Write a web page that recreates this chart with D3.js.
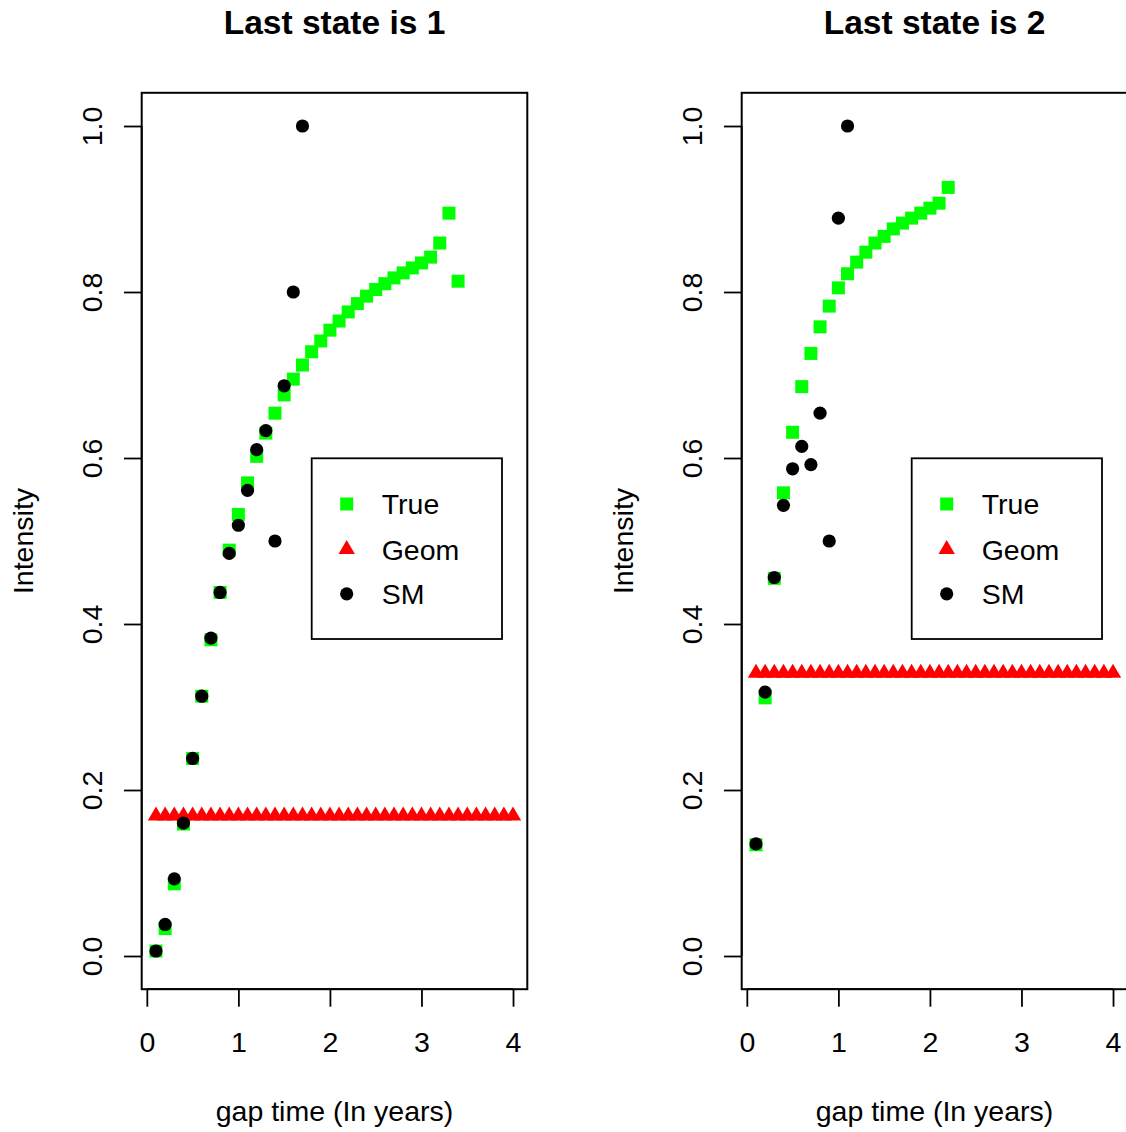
<!DOCTYPE html>
<html>
<head>
<meta charset="utf-8">
<script src="https://cdn.jsdelivr.net/npm/d3@7"></script>
<style>
  html, body { margin: 0; padding: 0; background: #fff; }
  svg { display: block; font-family: "Liberation Sans", Arial, Helvetica, sans-serif; }
</style>
</head>
<body>
<svg id="chart" width="1126" height="1132"></svg>
<script>
// ---- Data ----------------------------------------------------------------
// Panel 1: last state is 1
const trueX1 = [0.1,0.2,0.3,0.4,0.5,0.6,0.7,0.8,0.9,1.0,1.1,1.2,1.3,1.4,1.5,1.6,1.7,1.8,1.9,2.0,
                2.1,2.2,2.3,2.4,2.5,2.6,2.7,2.8,2.9,3.0,3.1,3.2,3.3,3.4];
const trueY1 = [0.006,0.033,0.087,0.159,0.238,0.313,0.381,0.438,0.489,0.532,0.570,0.602,0.630,0.654,
                0.676,0.695,0.712,0.728,0.741,0.754,0.765,0.776,0.786,0.795,0.803,0.810,0.817,0.823,
                0.829,0.835,0.842,0.859,0.895,0.813];
const smX1 = [0.1,0.2,0.3,0.4,0.5,0.6,0.7,0.8,0.9,1.0,1.1,1.2,1.3,1.4,1.5,1.6,1.7];
const smY1 = [0.006,0.038,0.093,0.160,0.238,0.313,0.383,0.438,0.485,0.519,0.561,0.610,0.633,0.500,
              0.687,0.800,1.000];

// Panel 2: last state is 2
const trueX2 = [0.1,0.2,0.3,0.4,0.5,0.6,0.7,0.8,0.9,1.0,1.1,1.2,1.3,1.4,1.5,1.6,1.7,1.8,1.9,2.0,2.1,2.2];
const trueY2 = [0.134,0.311,0.455,0.558,0.631,0.686,0.726,0.758,0.783,0.805,0.822,0.836,0.848,0.859,
                0.867,0.876,0.883,0.889,0.895,0.901,0.907,0.926];
const smX2 = [0.1,0.2,0.3,0.4,0.5,0.6,0.7,0.8,0.9,1.0,1.1];
const smY2 = [0.135,0.318,0.456,0.543,0.587,0.614,0.592,0.654,0.500,0.889,1.000];

// Geometric model: constant intensity on the full time grid
const geomX = [0.1,0.2,0.3,0.4,0.5,0.6,0.7,0.8,0.9,1.0,1.1,1.2,1.3,1.4,1.5,1.6,1.7,1.8,1.9,2.0,
               2.1,2.2,2.3,2.4,2.5,2.6,2.7,2.8,2.9,3.0,3.1,3.2,3.3,3.4,3.5,3.6,3.7,3.8,3.9,4.0];
const geomY1 = [0.169,0.169,0.169,0.169,0.169,0.169,0.169,0.169,0.169,0.169,0.169,0.169,0.169,0.169,
                0.169,0.169,0.169,0.169,0.169,0.169,0.169,0.169,0.169,0.169,0.169,0.169,0.169,0.169,
                0.169,0.169,0.169,0.169,0.169,0.169,0.169,0.169,0.169,0.169,0.169,0.169];
const geomY2 = [0.341,0.341,0.341,0.341,0.341,0.341,0.341,0.341,0.341,0.341,0.341,0.341,0.341,0.341,
                0.341,0.341,0.341,0.341,0.341,0.341,0.341,0.341,0.341,0.341,0.341,0.341,0.341,0.341,
                0.341,0.341,0.341,0.341,0.341,0.341,0.341,0.341,0.341,0.341,0.341,0.341];

const xTicks = [0, 1, 2, 3, 4];
const yTicks = [0.0, 0.2, 0.4, 0.6, 0.8, 1.0];
const legendLabels = ["True", "Geom", "SM"];
const titles = ["Last state is 1", "Last state is 2"];
const xLabel = "gap time (In years)";
const yLabel = "Intensity";

// ---- Layout --------------------------------------------------------------
const svg = d3.select("#chart");
const panelW = 600;
const plotL = 141.7, plotR = 527.3, plotT = 92.8, plotB = 989.2;
const baseFont = 28.5, titleFont = 33.5;

const colors = { True: "#00ff00", Geom: "#ff0000", SM: "#000000" };

// symbol drawing helpers (square, triangle, circle)
function drawSquare(g, x, y) {
  const s = 13;
  g.append("rect").attr("x", x - s / 2).attr("y", y - s / 2)
    .attr("width", s).attr("height", s).attr("fill", colors.True);
}
function drawTriangle(g, x, y) {
  const h = 14, w = 16.4;
  g.append("path")
    .attr("d", `M${x},${y - h * 2 / 3}L${x + w / 2},${y + h / 3}L${x - w / 2},${y + h / 3}Z`)
    .attr("fill", colors.Geom);
}
function drawCircle(g, x, y) {
  g.append("circle").attr("cx", x).attr("cy", y).attr("r", 6.6).attr("fill", colors.SM);
}

function panel(offset, title, tX, tY, gX, gY, sX, sY) {
  const g = svg.append("g").attr("transform", `translate(${offset},0)`);

  const x = d3.scaleLinear().domain([-0.056, 4.156]).range([plotL, plotR]);
  const y = d3.scaleLinear().domain([-0.04, 1.04]).range([plotB, plotT]);

  // points: True, then Geom, then SM on top
  const pts = g.append("g");
  tX.forEach((v, i) => drawSquare(pts, x(v), y(tY[i])));
  gX.forEach((v, i) => drawTriangle(pts, x(v), y(gY[i])));
  sX.forEach((v, i) => drawCircle(pts, x(v), y(sY[i])));

  // x axis
  const xa = g.append("g").attr("transform", `translate(0,${plotB})`)
    .call(d3.axisBottom(x).tickValues(xTicks).tickFormat(d3.format("d")).tickSize(17.5).tickSizeOuter(0));
  xa.select(".domain").remove();
  xa.append("line").attr("x1", x(xTicks[0])).attr("x2", x(xTicks[xTicks.length - 1]))
    .attr("y1", 0).attr("y2", 0).attr("stroke", "#000").attr("stroke-width", 1.8);
  xa.selectAll(".tick line").attr("stroke", "#000").attr("stroke-width", 1.8);
  xa.selectAll(".tick text").attr("y", 63.3).attr("dy", null)
    .attr("font-size", baseFont).attr("fill", "#000").attr("font-family", null);

  // y axis
  const ya = g.append("g").attr("transform", `translate(${plotL},0)`)
    .call(d3.axisLeft(y).tickValues(yTicks).tickFormat(d3.format(".1f")).tickSize(17.7).tickSizeOuter(0));
  ya.select(".domain").remove();
  ya.append("line").attr("x1", 0).attr("x2", 0)
    .attr("y1", y(yTicks[0])).attr("y2", y(yTicks[yTicks.length - 1]))
    .attr("stroke", "#000").attr("stroke-width", 1.8);
  ya.selectAll(".tick line").attr("stroke", "#000").attr("stroke-width", 1.8);
  ya.selectAll(".tick text")
    .attr("transform", "rotate(-90)")
    .attr("x", 0).attr("y", -40.2).attr("dy", null)
    .attr("text-anchor", "middle")
    .attr("font-size", baseFont).attr("fill", "#000").attr("font-family", null);

  // plot frame
  g.append("rect").attr("x", plotL).attr("y", plotT)
    .attr("width", plotR - plotL).attr("height", plotB - plotT)
    .attr("fill", "none").attr("stroke", "#000").attr("stroke-width", 2);

  // titles
  const cx = (plotL + plotR) / 2;
  g.append("text").attr("x", cx).attr("y", 34).attr("text-anchor", "middle")
    .attr("font-size", titleFont).attr("font-weight", "bold").text(title);
  g.append("text").attr("x", cx).attr("y", 1121).attr("text-anchor", "middle")
    .attr("font-size", baseFont).text(xLabel);
  g.append("text").attr("transform", `translate(33.3,${(plotT + plotB) / 2}) rotate(-90)`)
    .attr("text-anchor", "middle").attr("font-size", baseFont).text(yLabel);

  // legend
  const lg = g.append("g");
  lg.append("rect").attr("x", 311.7).attr("y", 458.3).attr("width", 190.3).attr("height", 180.7)
    .attr("fill", "#fff").attr("stroke", "#000").attr("stroke-width", 1.8);
  const rowsY = [504, 549.3, 593.8];
  const drawers = [drawSquare, drawTriangle, drawCircle];
  legendLabels.forEach((lab, i) => {
    drawers[i](lg, 346.7, rowsY[i]);
    lg.append("text").attr("x", 381.7).attr("y", rowsY[i] + 10.2)
      .attr("font-size", baseFont).text(lab);
  });
}

panel(0, titles[0], trueX1, trueY1, geomX, geomY1, smX1, smY1);
panel(panelW, titles[1], trueX2, trueY2, geomX, geomY2, smX2, smY2);
</script>
</body>
</html>
